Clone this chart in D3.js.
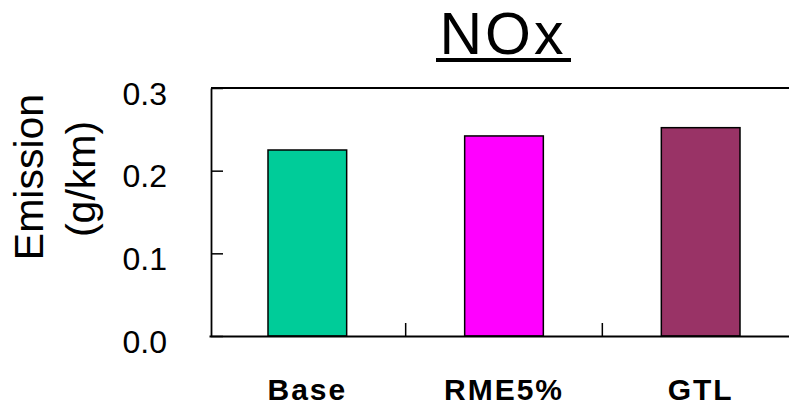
<!DOCTYPE html>
<html>
<head>
<meta charset="utf-8">
<script src="https://cdn.jsdelivr.net/npm/d3@7"></script>
<style>
  html, body { margin: 0; padding: 0; background: #fff; }
  svg { display: block; }
</style>
</head>
<body>
<svg id="chart" width="789" height="410"></svg>
<script>
const categories = ["Base", "RME5%", "GTL"];
const values = [0.225, 0.242, 0.252];
const colors = ["#00CC99", "#FF00FF", "#993366"];
const yTicks = [0.0, 0.1, 0.2, 0.3];
const chartTitle = "NOx";
const yTitle = ["Emission", "(g/km)"];

const svg = d3.select("#chart");
const plotLeft = 211, plotTop = 88, plotBottom = 336;

const y = d3.scaleLinear().domain([0, 0.3]).range([plotBottom, plotTop]);
const x = d3.scaleBand().domain(categories).range([209, 799]).paddingInner(0.6).paddingOuter(0.3);
const xStep = d3.scaleBand().domain(categories).range([209, 799]).padding(0);

// bars
svg.append("g").selectAll("rect").data(categories).join("rect")
  .attr("x", d => x(d))
  .attr("width", x.bandwidth())
  .attr("y", (d, i) => y(values[i]))
  .attr("height", (d, i) => plotBottom - y(values[i]))
  .attr("fill", (d, i) => colors[i])
  .attr("stroke", "#000")
  .attr("stroke-width", 1.5);

// frame: top line
svg.append("line").attr("x1", plotLeft).attr("x2", 795).attr("y1", plotTop).attr("y2", plotTop)
  .attr("stroke", "#000").attr("stroke-width", 1.8);

// y axis
const yAxis = d3.axisLeft(y).tickValues(yTicks).tickFormat(d3.format(".1f")).tickSizeInner(-12).tickSizeOuter(0).tickPadding(44);
const gy = svg.append("g").attr("transform", `translate(${plotLeft},0)`).call(yAxis);
gy.select(".domain").attr("stroke", "#000").attr("stroke-width", 1.8);
gy.selectAll(".tick line").attr("stroke", "#000").attr("stroke-width", 1.5);
gy.selectAll(".tick text")
  .attr("font-family", "'Liberation Sans', Arial, sans-serif")
  .attr("font-size", 32).attr("fill", "#000").attr("dy", "0.5em");

// x axis
const xAxis = d3.axisBottom(xStep).tickSizeInner(0).tickSizeOuter(0).tickPadding(64);
const gx = svg.append("g").attr("transform", `translate(0,${plotBottom})`).call(xAxis);
gx.select(".domain").attr("stroke", "#000").attr("stroke-width", 1.8);
gx.selectAll(".tick text")
  .attr("font-family", "'Liberation Sans', Arial, sans-serif")
  .attr("font-weight", "bold").attr("font-size", 30)
  .attr("letter-spacing", 2).attr("fill", "#000").attr("dy", 0);
// inner category separators
const seps = categories.slice(1).map(c => xStep(c));
svg.append("g").selectAll("line").data(seps).join("line")
  .attr("x1", d => d).attr("x2", d => d)
  .attr("y1", plotBottom).attr("y2", plotBottom - 13)
  .attr("stroke", "#000").attr("stroke-width", 1.5);

// title
svg.append("text").attr("x", 503).attr("y", 54)
  .attr("text-anchor", "middle")
  .attr("font-family", "'Liberation Sans', Arial, sans-serif")
  .attr("font-size", 59).attr("letter-spacing", 3).attr("fill", "#000").text(chartTitle);
svg.append("rect").attr("x", 436).attr("width", 135).attr("y", 58).attr("height", 4).attr("fill", "#000");

// y title
const yt = svg.append("text")
  .attr("transform", "translate(43,177) rotate(-90)")
  .attr("text-anchor", "middle")
  .attr("font-family", "'Liberation Sans', Arial, sans-serif")
  .attr("font-size", 41).attr("fill", "#000");
yt.append("tspan").attr("x", 0).attr("y", 0).text(yTitle[0]);
yt.append("tspan").attr("x", -2).attr("y", 52).text(yTitle[1]);
</script>
</body>
</html>
